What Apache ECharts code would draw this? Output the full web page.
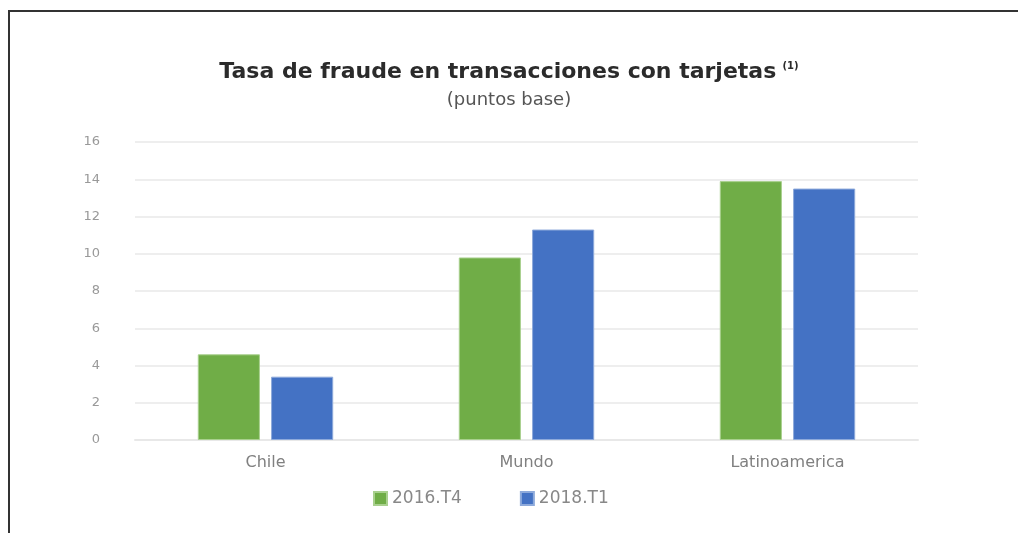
<!DOCTYPE html>
<html>
<head>
<meta charset="utf-8">
<script src="https://cdn.jsdelivr.net/npm/echarts@6/dist/echarts.min.js"></script>
<style>
  html, body { margin: 0; padding: 0; background: #fff; }
  #chart { width: 1018px; height: 533px; }
</style>
</head>
<body>
<div id="chart"></div>
<script>
const categories = ["Chile", "Mundo", "Latinoamerica"];
const serie2016T4 = [4.6, 9.8, 13.9];
const serie2018T1 = [3.4, 11.3, 13.5];
const seriesNames = ["2016.T4", "2018.T1"];

const chart = echarts.init(document.getElementById("chart"));
const option = {
  animation: false,
  textStyle: { fontFamily: "DejaVu Sans" },
  title: {
    left: 504,
    top: 56,
    textAlign: "center",
    itemGap: 8,
    text: "{t|Tasa de fraude en transacciones con tarjetas} {s|(1)}",
    textStyle: {
      rich: {
        t: { fontSize: 22, fontWeight: "bold", color: "#2b2b2b", fontFamily: "DejaVu Sans" },
        s: { fontSize: 10, fontWeight: "bold", color: "#2b2b2b", fontFamily: "DejaVu Sans", verticalAlign: "top", padding: [0, 0, 10, 0] },
      },
    },
    subtext: "(puntos base)",
    subtextStyle: { fontSize: 18, color: "#555", fontFamily: "DejaVu Sans" },
  },
  legend: {
    top: 485,
    left: 368,
    itemWidth: 13,
    itemHeight: 13,
    itemGap: 58,
    icon: "rect",
    textStyle: { fontSize: 17, color: "#888", fontFamily: "DejaVu Sans" },
    data: seriesNames,
  },
  grid: { left: 135, right: 100, top: 142, bottom: 93 },
  xAxis: {
    type: "category",
    data: categories,
    axisLine: { lineStyle: { color: "#e8e8e8", width: 2 } },
    axisTick: { show: false },
    axisLabel: { fontSize: 16, color: "#808080", margin: 15 },
  },
  yAxis: {
    type: "value",
    min: 0,
    max: 16,
    interval: 2,
    axisLine: { show: false },
    axisTick: { show: false },
    axisLabel: { fontSize: 13, color: "#999", margin: 35 },
    splitLine: { lineStyle: { color: "#eeeeee", width: 2 } },
  },
  series: [
    {
      name: seriesNames[0],
      type: "bar",
      barWidth: "23.8%",
      barGap: "18%",
      itemStyle: { color: "#70AD47", borderColor: "#a9d08e", borderWidth: 1 },
      data: serie2016T4,
    },
    {
      name: seriesNames[1],
      type: "bar",
      barWidth: "23.8%",
      itemStyle: { color: "#4472C4", borderColor: "#8eaadb", borderWidth: 1 },
      data: serie2018T1,
    },
  ],
  graphic: [
    {
      type: "polyline",
      shape: { points: [[9, 533], [9, 11], [1018, 11]] },
      style: { stroke: "#333", lineWidth: 2, fill: null },
    },
  ],
};
chart.setOption(option);
</script>
</body>
</html>
